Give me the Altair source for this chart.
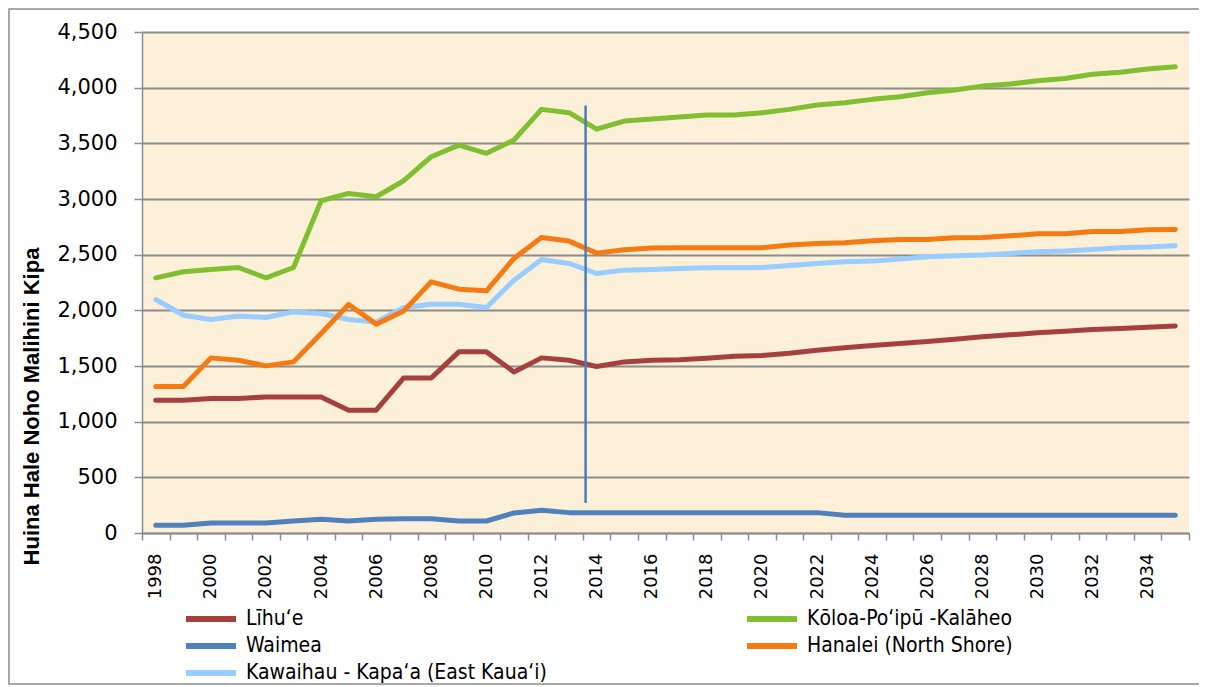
import altair as alt
import pandas as pd

years = [1998, 1999, 2000, 2001, 2002, 2003, 2004, 2005, 2006, 2007, 2008, 2009, 2010,
         2011, 2012, 2013, 2014, 2015, 2016, 2017, 2018, 2019, 2020, 2021, 2022, 2023,
         2024, 2025, 2026, 2027, 2028, 2029, 2030, 2031, 2032, 2033, 2034, 2035]

# legend is filled column by column: left column first, then right column
names = ["Līhu‘e", "Waimea", "Kawaihau - Kapa‘a (East Kaua‘i)",
         "Kōloa-Po‘ipū -Kalāheo", "Hanalei (North Shore)"]
colors = ["#A5403F", "#4F81BD", "#99CCFF", "#80C030", "#F57A12"]

lihue = [1193, 1193, 1208, 1208, 1222, 1222, 1222, 1103, 1103, 1393, 1393, 1627, 1627,
         1447, 1573, 1552, 1495, 1537, 1552, 1557, 1570, 1588, 1594, 1615, 1642, 1663,
         1684, 1702, 1720, 1741, 1762, 1780, 1798, 1813, 1828, 1837, 1849, 1860]
waimea = [69, 69, 90, 90, 90, 108, 123, 108, 123, 129, 129, 108, 108,
          180, 204, 183, 183, 183, 183, 183, 183, 183, 183, 183, 183, 160,
          160, 160, 160, 160, 160, 160, 160, 160, 160, 160, 160, 160]
kawaihau = [2097, 1956, 1918, 1950, 1936, 1986, 1971, 1918, 1896, 2026, 2055, 2055, 2026,
            2271, 2457, 2421, 2331, 2361, 2367, 2376, 2382, 2382, 2385, 2403, 2421, 2436,
            2442, 2460, 2481, 2490, 2496, 2511, 2526, 2532, 2547, 2562, 2568, 2580]
koloa = [2292, 2346, 2367, 2385, 2292, 2385, 2984, 3050, 3020, 3164, 3380, 3484, 3410,
         3530, 3805, 3775, 3628, 3700, 3718, 3736, 3754, 3754, 3775, 3805, 3844, 3865,
         3895, 3919, 3955, 3979, 4014, 4032, 4062, 4083, 4120, 4138, 4168, 4188]
hanalei = [1315, 1315, 1573, 1552, 1501, 1537, 1792, 2053, 1876, 1995, 2256, 2190, 2175,
           2466, 2655, 2622, 2514, 2545, 2560, 2563, 2563, 2563, 2563, 2586, 2601, 2607,
           2625, 2637, 2637, 2651, 2654, 2669, 2687, 2687, 2708, 2708, 2723, 2726]

y_ticks = [0, 500, 1000, 1500, 2000, 2500, 3000, 3500, 4000, 4500]

# projection marker (vertical line)
marker_year = [2014]
marker_low = [270]
marker_high = [3840]

series = [lihue, waimea, kawaihau, koloa, hanalei]
rows = []
for name, vals in zip(names, series):
    for y, v in zip(years, vals):
        rows.append({"year": y, "value": v, "series": name})
df = pd.DataFrame(rows)

marker_df = pd.DataFrame({"year": marker_year, "low": marker_low, "high": marker_high})

xscale = alt.Scale(type="band", paddingInner=0, paddingOuter=0, domain=years)

lines = alt.Chart(df).mark_line(strokeWidth=5, strokeCap="round", strokeJoin="round").encode(
    x=alt.X("year:O", scale=xscale, sort=years,
            axis=alt.Axis(title=None, labelAngle=270, labelFontSize=18,
                          labelFont="DejaVu Sans", labelColor="#000000",
                          labelExpr="datum.value % 2 == 0 ? datum.label : ''",
                          tickBand="extent", tickSize=7, tickColor="#8C8C8C", tickWidth=1.5,
                          domainColor="#8C8C8C", domainWidth=1.5, labelPadding=13,
                          grid=False)),
    y=alt.Y("value:Q", scale=alt.Scale(domain=[0, 4500], nice=False),
            axis=alt.Axis(title="Huina Hale Noho Malihini  Kipa", values=y_ticks,
                          format=",.0f", labelFontSize=21, labelFont="DejaVu Sans",
                          labelColor="#000000", labelPadding=17,
                          tickSize=8, tickColor="#8C8C8C", tickWidth=1.5,
                          domainColor="#8C8C8C", domainWidth=1.5,
                          grid=True, gridColor="#8C8C8C", gridWidth=1.8,
                          titleFont="Liberation Sans", titleFontSize=22, titleFontWeight="bold",
                          titleColor="#000000", titleAngle=270, titleX=-111, titleY=374,
                          titleAlign="center", titleBaseline="middle")),
    color=alt.Color("series:N", scale=alt.Scale(domain=names, range=colors),
                    legend=alt.Legend(orient="none", legendX=56, legendY=574, columns=2,
                                      title=None, symbolType="M-2.5,0H2.5", symbolSize=400,
                                      symbolStrokeWidth=6,
                                      labelFont="Liberation Sans Narrow, DejaVu Sans Condensed, sans-serif",
                                      labelFontSize=21, labelLimit=600, labelColor="#000000",
                                      rowPadding=2, columnPadding=188, labelOffset=22,
                                      padding=0)),
)

rule = alt.Chart(marker_df).mark_rule(color="#4A7EBB", strokeWidth=2.5).encode(
    x=alt.X("year:O", scale=xscale, bandPosition=0.1),
    y="low:Q",
    y2="high:Q",
)

frame = alt.Chart(alt.Data(values=[{}])).mark_rect(fillOpacity=0, stroke="#8C8C8C", strokeWidth=1.5).encode(
    x=alt.value(-133), x2=alt.value(1070), y=alt.value(-23), y2=alt.value(652)
)

chart = alt.layer(lines, rule, frame).properties(
    width=1047, height=501,
    autosize=alt.AutoSizeParams(type="none"),
    padding={"left": 134, "top": 24, "right": 10, "bottom": 153},
    background="#FFFFFF",
).configure_view(fill="#FCF0D9", stroke=None)

chart.save("out.html", embed_options={"renderer": "svg", "actions": False})
